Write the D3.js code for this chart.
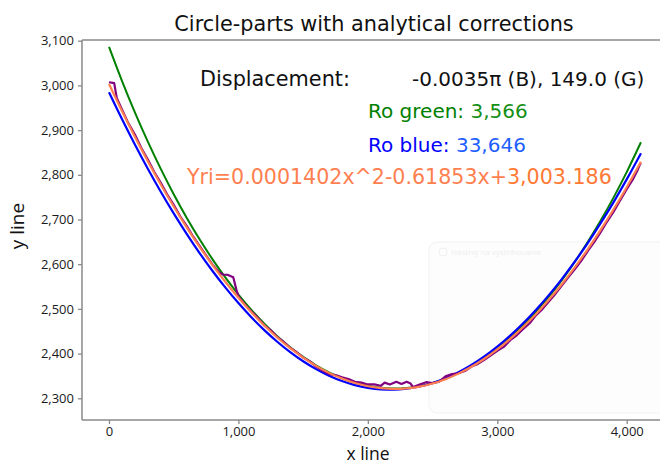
<!DOCTYPE html>
<html><head><meta charset="utf-8">
<script src="https://cdn.jsdelivr.net/npm/d3@7"></script>
<style>body{margin:0;background:#fff}svg{display:block}</style>
</head><body>
<svg id="c" width="660" height="465"></svg>
<script>
// ---- data ----
const xTicks = [0, 1000, 2000, 3000, 4000];
const yTicks = [2300, 2400, 2500, 2600, 2700, 2800, 2900, 3000, 3100];
const curveX = [0,100,200,300,400,500,600,700,800,900,1000,1100,1200,1300,1400,1500,1600,1700,1800,1900,2000,2100,2200,2300,2400,2500,2600,2700,2800,2900,3000,3100,3200,3300,3400,3500,3600,3700,3800,3900,4000,4100,4110];
const orangeY = [3003.2,2942.7,2885.1,2830.3,2778.2,2729.0,2682.5,2638.9,2598.1,2560.1,2524.9,2492.5,2462.8,2436.0,2412.0,2390.8,2372.5,2356.9,2344.1,2334.1,2326.9,2322.6,2321.0,2322.2,2326.3,2333.1,2342.8,2355.2,2370.5,2388.5,2409.4,2433.1,2459.5,2488.8,2520.9,2555.8,2593.5,2634.0,2677.3,2723.4,2772.3,2824.0,2829.3];
const greenY = [3086.2,3010.3,2939.7,2874.1,2813.2,2756.6,2704.1,2655.6,2610.9,2569.8,2532.1,2497.9,2466.8,2439.0,2414.3,2392.6,2373.9,2358.1,2345.2,2335.2,2328.0,2323.6,2322.0,2323.2,2327.3,2334.1,2343.8,2356.4,2371.8,2390.2,2411.5,2435.9,2463.3,2494.0,2527.8,2565.1,2605.8,2650.1,2698.1,2750.1,2806.1,2866.6,2872.8];
const blueY = [2984.8,2924.9,2867.9,2813.6,2762.2,2713.6,2667.9,2624.9,2584.8,2547.5,2513.0,2481.3,2452.5,2426.5,2403.3,2382.9,2365.3,2350.5,2338.6,2329.5,2323.2,2319.8,2319.1,2321.3,2326.3,2334.1,2344.7,2358.2,2374.4,2393.5,2415.4,2440.2,2467.7,2498.1,2531.3,2567.3,2606.1,2647.8,2692.3,2739.5,2789.7,2842.6,2848.0];
const purpleX = [0,40,60,100,150,200,250,300,350,400,450,500,550,600,650,700,750,800,850,880,920,960,985,1000,1050,1100,1150,1200,1250,1300,1350,1400,1450,1500,1550,1600,1650,1700,1750,1800,1850,1900,1950,2000,2050,2100,2130,2170,2220,2260,2300,2330,2350,2400,2450,2500,2550,2600,2650,2700,2750,2800,2850,2900,2950,3000,3050,3100,3150,3200,3250,3300,3350,3400,3450,3500,3550,3600,3650,3700,3750,3800,3850,3900,3950,4000,4050,4080,4100,4110];
const purpleY = [3007,3005,2972,2946,2915,2890,2860,2834,2806,2782,2756,2733,2707,2686,2662,2641,2620,2599,2582,2577,2576,2571,2542,2528,2510,2494,2480,2463,2452,2437,2426,2413,2403,2391,2383,2371,2362,2354,2352,2347,2343,2337,2335,2331,2331,2328,2335,2331,2337,2332,2337,2333,2325,2331,2336,2334,2337,2349,2354,2356,2361,2371,2377,2386,2396,2406,2415,2430,2441,2455,2468,2486,2500,2517,2534,2553,2571,2589,2608,2630,2650,2672,2696,2718,2743,2768,2791,2808,2822,2826];

const svg = d3.select('#c');
const L = 82, T = 40, B = 420, R = 660;
const x = d3.scaleLinear().domain([0, 4000]).range([109, 626.7]);
const y = d3.scaleLinear().domain([2300, 3100]).range([398.3, 40.7]);
const axisColor = '#8a8a8a';

// title
svg.append('text').attr('x', 374).attr('y', 31).attr('text-anchor', 'middle')
  .style('font-family', 'DejaVu Sans').style('font-size', '20.8px').attr('fill', '#111')
  .text('Circle-parts with analytical corrections');

// faint overlay box (screenshot artefact)
svg.append('rect').attr('x', 429).attr('y', 242).attr('width', 260).attr('height', 171).attr('rx', 8)
  .attr('fill', '#fdfdfd').attr('stroke', '#f2f2f2');
svg.append('circle').attr('cx', 443).attr('cy', 252).attr('r', 4).attr('fill', 'none').attr('stroke', '#efefef');
svg.append('text').attr('x', 451).attr('y', 255).style('font-family', 'Open Sans').style('font-size', '8px')
  .attr('fill', '#ededed').text('Nástroj na vystrihovanie');

// axes
const yAxis = d3.axisLeft(y).tickValues(yTicks).tickFormat(d3.format(',')).tickSize(4).tickPadding(4);
const gy = svg.append('g').attr('transform', `translate(${L},0)`).call(yAxis);
const xAxis = d3.axisBottom(x).tickValues(xTicks).tickFormat(d3.format(',')).tickSize(4).tickPadding(3);
const gx = svg.append('g').attr('transform', `translate(0,${B})`).call(xAxis);
[gx, gy].forEach(g => {
  g.select('.domain').remove();
  g.selectAll('.tick line').attr('stroke', axisColor).attr('stroke-width', 1.3);
  g.selectAll('.tick text').attr('fill', '#1a1a1a').style('font-family', 'Open Sans').style('font-size', '13px');
});
// spines
svg.append('line').attr('x1', L).attr('x2', L).attr('y1', T).attr('y2', B).attr('stroke', axisColor).attr('stroke-width', 1.5);
svg.append('line').attr('x1', L).attr('x2', R).attr('y1', B).attr('y2', B).attr('stroke', axisColor).attr('stroke-width', 1.5);
svg.append('line').attr('x1', L).attr('x2', R).attr('y1', T).attr('y2', T).attr('stroke', axisColor).attr('stroke-width', 1.5);

// axis labels
svg.append('text').attr('x', 368).attr('y', 460).attr('text-anchor', 'middle')
  .style('font-family', 'Open Sans').style('font-size', '17.5px').attr('fill', '#111').text('x line');
svg.append('text').attr('transform', 'translate(24,226) rotate(-90)').attr('text-anchor', 'middle')
  .style('font-family', 'Open Sans').style('font-size', '19px').attr('fill', '#111').text('y line');

// curves
svg.append('clipPath').attr('id', 'clip').append('rect').attr('x', L).attr('y', T).attr('width', R - L).attr('height', B - T);
const plot = svg.append('g').attr('clip-path', 'url(#clip)');
const smooth = d3.line().x(d => x(d[0])).y(d => y(d[1])).curve(d3.curveMonotoneX);
const straight = d3.line().x(d => x(d[0])).y(d => y(d[1]));
const zip = (a, b) => a.map((v, i) => [v, b[i]]);

plot.append('path').datum(zip(curveX, greenY)).attr('d', smooth).attr('fill', 'none').attr('stroke', '#008000').attr('stroke-width', 2);
plot.append('path').datum(zip(curveX, blueY)).attr('d', smooth).attr('fill', 'none').attr('stroke', '#0000ff').attr('stroke-width', 2.2);
plot.append('path').datum(zip(purpleX, purpleY)).attr('d', straight).attr('fill', 'none').attr('stroke', '#800080').attr('stroke-width', 2.2).attr('stroke-linejoin', 'round');
plot.append('path').datum(zip(curveX, orangeY)).attr('d', smooth).attr('fill', 'none').attr('stroke', '#ff7f50').attr('stroke-width', 2.2);

// annotations
const ann = (tx, ty, parts, size) => {
  const t = svg.append('text').attr('x', tx).attr('y', ty)
    .style('font-family', 'DejaVu Sans').style('font-size', size + 'px');
  parts.forEach(p => t.append('tspan').attr('fill', p[1]).text(p[0]));
  return t;
};
ann(200, 86, [['Displacement:', '#111']], 20.8);
ann(412, 86, [['-0.0035π (B), 149.0 (G)', '#111']], 20);
ann(368, 118, [['Ro green: ', '#008000'], ['3,566', '#159015']], 20);
ann(368, 152, [['Ro blue: ', '#0000ff'], ['33,646', '#1f5fff']], 20);
ann(187, 184, [['Yri=0.0001402x^2-0.61853x+', '#ff7f50'], ['3,003.186', '#ff7a35']], 20.6);
</script>
</body></html>
